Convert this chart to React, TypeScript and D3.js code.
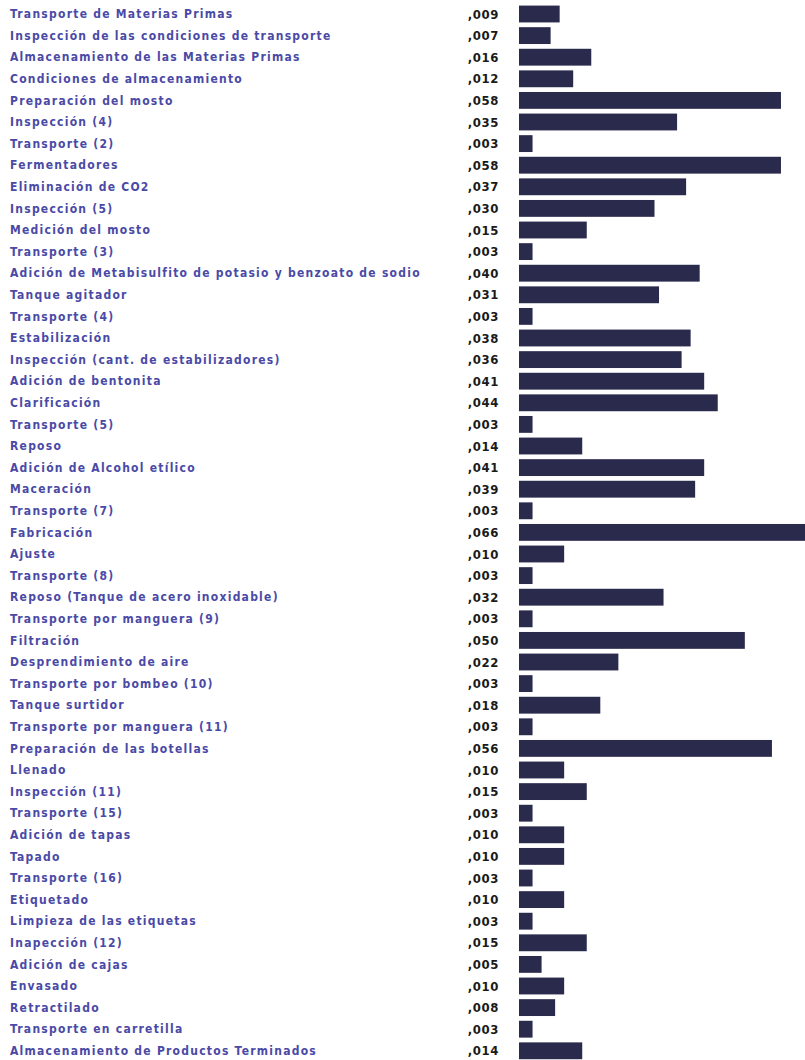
import React from "react";
import * as d3 from "d3";

// Process steps, top to bottom
const steps: string[] = [
  "Transporte de Materias Primas",
  "Inspección de las condiciones de transporte",
  "Almacenamiento de las Materias Primas",
  "Condiciones de almacenamiento",
  "Preparación del mosto",
  "Inspección (4)",
  "Transporte (2)",
  "Fermentadores",
  "Eliminación de CO2",
  "Inspección (5)",
  "Medición del mosto",
  "Transporte (3)",
  "Adición de Metabisulfito de potasio y benzoato de sodio",
  "Tanque agitador",
  "Transporte (4)",
  "Estabilización",
  "Inspección (cant. de estabilizadores)",
  "Adición de bentonita",
  "Clarificación",
  "Transporte (5)",
  "Reposo",
  "Adición de Alcohol etílico",
  "Maceración",
  "Transporte (7)",
  "Fabricación",
  "Ajuste",
  "Transporte (8)",
  "Reposo (Tanque de acero inoxidable)",
  "Transporte por manguera (9)",
  "Filtración",
  "Desprendimiento de aire",
  "Transporte por bombeo (10)",
  "Tanque surtidor",
  "Transporte por manguera (11)",
  "Preparación de las botellas",
  "Llenado",
  "Inspección (11)",
  "Transporte (15)",
  "Adición de tapas",
  "Tapado",
  "Transporte (16)",
  "Etiquetado",
  "Limpieza de las etiquetas",
  "Inapección (12)",
  "Adición de cajas",
  "Envasado",
  "Retractilado",
  "Transporte en carretilla",
  "Almacenamiento de Productos Terminados",
];

// Weight of each step
const weights: number[] = [
  0.009, 0.007, 0.016, 0.012, 0.058, 0.035, 0.003, 0.058, 0.037, 0.03,
  0.015, 0.003, 0.04, 0.031, 0.003, 0.038, 0.036, 0.041, 0.044, 0.003,
  0.014, 0.041, 0.039, 0.003, 0.066, 0.01, 0.003, 0.032, 0.003, 0.05,
  0.022, 0.003, 0.018, 0.003, 0.056, 0.01, 0.015, 0.003, 0.01, 0.01,
  0.003, 0.01, 0.003, 0.015, 0.005, 0.01, 0.008, 0.003, 0.014,
];

const W = 805;
const H = 1060;
const FONT = "'DejaVu Sans Condensed', 'DejaVu Sans', sans-serif";

const fmt = (v: number) => d3.format(".3f")(v).replace(/^0\./, ",");

export default function App() {
  const y = d3
    .scaleBand<string>()
    .domain(steps)
    .range([3.2, 1061.6])
    .paddingInner(0.22)
    .paddingOuter(0.11);
  const x = d3.scaleLinear().domain([0, 0.06]).range([519, 790]);
  const step = y.step();

  return (
    <svg
      width={W}
      height={H}
      style={{ position: "absolute", left: 0, top: 0, background: "#fff" }}
    >
      {steps.map((s, i) => {
        const yc = (y(s) as number) - (step * 0.22) / 2 + step / 2;
        return (
          <g key={s}>
            <text
              x={10}
              y={yc}
              dy="0.35em"
              fontFamily={FONT}
              fontWeight="bold"
              fontSize={12}
              letterSpacing={1.25}
              fill="#4a4aa6"
            >
              {s}
            </text>
            <text
              x={499}
              y={yc}
              dy="0.35em"
              textAnchor="end"
              fontFamily={FONT}
              fontWeight="bold"
              fontSize={13}
              letterSpacing={0.6}
              fill="#1a1a1a"
            >
              {fmt(weights[i])}
            </text>
            <rect
              x={x(0)}
              y={y(s) as number}
              width={x(weights[i]) - x(0)}
              height={y.bandwidth()}
              fill="#2a2a4d"
            />
          </g>
        );
      })}
    </svg>
  );
}
